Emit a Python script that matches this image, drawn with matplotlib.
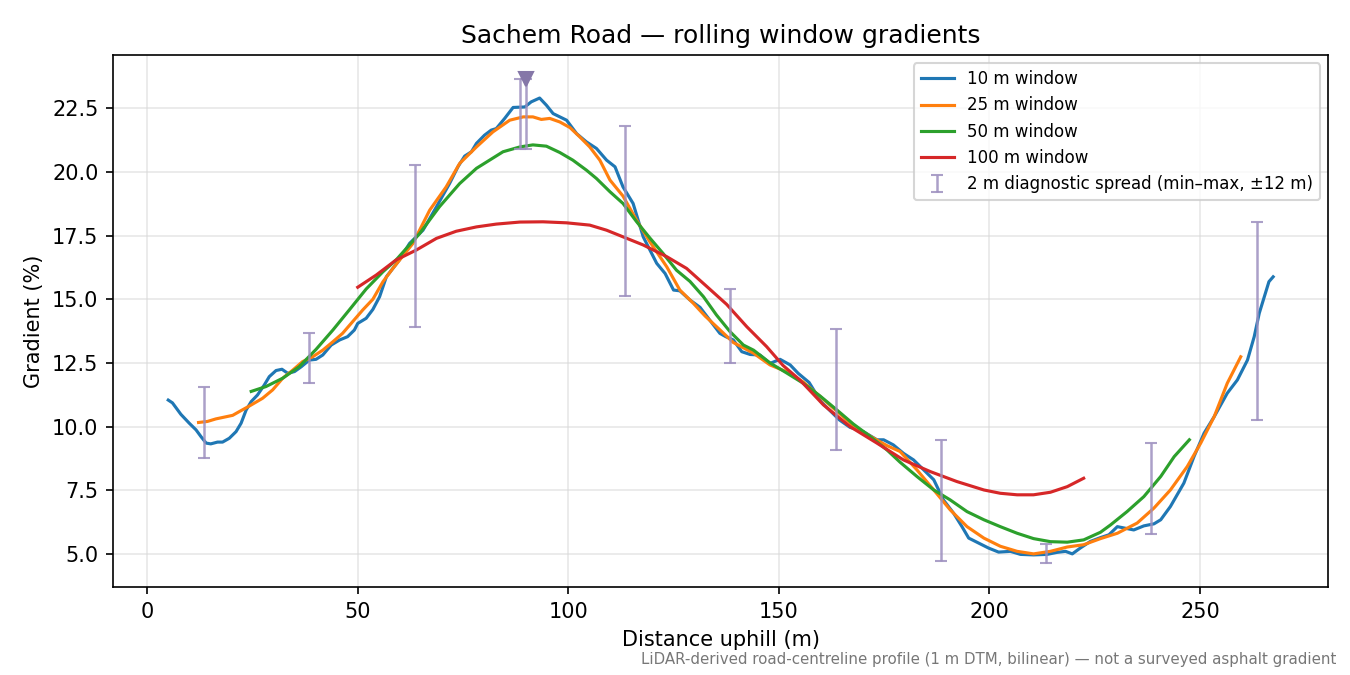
import matplotlib
matplotlib.use("Agg")
import matplotlib.pyplot as plt

# 10 m window
w10_x = [5, 6, 8, 10, 11.6, 12.8, 14, 15.1, 16.7, 17.9, 19.5, 21.1, 22.3, 23.5, 24.7, 26.2, 27.8, 29,
         30.6, 32, 33.4, 35, 36.6, 38.5, 40.1, 41.7, 43.7, 45.7, 47.6, 49.2, 50, 52, 53.6, 55.2, 56.8,
         59.9, 62.3, 65.5, 68.7, 71.8, 73.8, 75.4, 77, 78.2, 80.1, 81.7, 82.9, 84.9, 86.9, 89.7, 91.2,
         93.2, 94.8, 96.4, 98, 99.6, 102, 104.3, 106.7, 109.1, 111.1, 113, 115.4, 117.8, 119.4, 121,
         123, 125, 126.5, 128.9, 131.3, 133.6, 136, 137.4, 139.2, 141.2, 143.2, 145.5, 147.9, 150.3,
         152.7, 154.6, 157.2, 160, 162.2, 164.4, 166.9, 170.1, 173.3, 174.9, 177.2, 179.6, 182, 184.4,
         186.8, 189.1, 191.5, 193.5, 195.1, 197.5, 199.8, 202.2, 205, 207.4, 210.5, 213.7, 216.1,
         218.1, 219.7, 221.6, 224, 226.4, 228.4, 230.4, 234.3, 236.7, 239.1, 240.7, 243, 246.2,
         248.6, 251, 253.4, 256.5, 258.9, 261.3, 262.9, 264.1, 265.3, 266.4, 267.4]
w10_y = [11.04, 10.93, 10.48, 10.13, 9.87, 9.6, 9.35, 9.32, 9.39, 9.39, 9.54, 9.8, 10.13, 10.65, 10.98,
         11.24, 11.63, 11.96, 12.2, 12.25, 12.09, 12.16, 12.35, 12.61, 12.64, 12.81, 13.2, 13.4, 13.53,
         13.79, 14.05, 14.25, 14.6, 15.1, 15.88, 16.54, 17.19, 17.71, 18.63, 19.54, 20.2, 20.62, 20.79,
         21.12, 21.44, 21.64, 21.7, 22.1, 22.53, 22.55, 22.75, 22.9, 22.62, 22.29, 22.16, 22.03, 21.5,
         21.18, 20.92, 20.46, 20.2, 19.41, 18.76, 17.45, 16.93, 16.41, 16.01, 15.36, 15.33, 14.97,
         14.68, 14.18, 13.66, 13.53, 13.4, 12.94, 12.83, 12.81, 12.48, 12.64, 12.42, 12.09, 11.73,
         10.98, 10.62, 10.26, 9.97, 9.8, 9.48, 9.48, 9.28, 8.95, 8.69, 8.3, 7.91, 7.12, 6.6, 6.07,
         5.62, 5.42, 5.23, 5.07, 5.1, 4.98, 4.96, 4.98, 5.06, 5.1, 5.0, 5.23, 5.49, 5.64, 5.75, 6.07,
         5.94, 6.1, 6.18, 6.34, 6.86, 7.78, 8.82, 9.74, 10.39, 11.31, 11.83, 12.61, 13.53, 14.45,
         15.1, 15.69, 15.88]

# 25 m window
w25_x = [12.2, 14.3, 16.3, 18.3, 20.3, 21.9, 24.3, 27.4, 29.8, 32.2, 34.6, 36.9, 39.3, 41.7, 44.1,
         46.4, 48.8, 51.2, 53.6, 56, 58.3, 63.1, 67.1, 71, 74.2, 78.2, 82.1, 86.1, 89.3, 91.6, 93.6,
         95.6, 98, 100.4, 102.7, 105.1, 107.5, 109.9, 113, 116.2, 119.4, 123.4, 126.5, 129.7, 132.5,
         136, 139.2, 144, 147.9, 151.9, 155.8, 159.8, 163.8, 167.7, 171.7, 175.7, 178.8, 182.8,
         186.8, 190.7, 194.7, 198.7, 202.6, 206.6, 210.5, 214.5, 218.5, 222.4, 226.4, 230.4, 235.1,
         239.1, 243, 247, 250.2, 253.4, 256.5, 259.7]
w25_y = [10.16, 10.2, 10.3, 10.37, 10.44, 10.59, 10.81, 11.11, 11.44, 11.9, 12.22, 12.55, 12.74, 13.0,
         13.33, 13.66, 14.12, 14.58, 15.0, 15.69, 16.2, 17.19, 18.5, 19.41, 20.33, 20.98, 21.57,
         22.03, 22.16, 22.16, 22.06, 22.1, 21.96, 21.74, 21.38, 20.98, 20.46, 19.68, 19.05, 18.11,
         17.25, 16.27, 15.36, 14.84, 14.34, 13.8, 13.3, 12.88, 12.42, 12.15, 11.75, 11.18, 10.6,
         10.03, 9.62, 9.25, 9.02, 8.3, 7.51, 6.73, 6.07, 5.62, 5.3, 5.1, 5.0, 5.1, 5.27, 5.36, 5.6,
         5.81, 6.21, 6.8, 7.51, 8.43, 9.35, 10.39, 11.7, 12.74]

# 50 m window
w50_x = [24.7, 28.2, 32.2, 36.1, 40.1, 44.1, 48, 52, 56, 59.1, 64.7, 69.4, 74.2, 78.2, 81.3, 84.5,
         88.5, 91.6, 94.8, 98, 101.1, 104.3, 106.7, 109.9, 113, 116.2, 119.4, 122.5, 125.7, 128.9,
         132.1, 135.2, 138.4, 141.6, 144, 147.9, 151.9, 155.8, 159.8, 163.8, 167.7, 171.7, 175.7,
         178.8, 182.8, 186.8, 190.7, 194.7, 198.7, 202.6, 206.6, 210.5, 214.5, 218.5, 222.4, 226.4,
         228.8, 232.7, 236.7, 240.7, 243.9, 247.5]
w50_y = [11.38, 11.57, 11.9, 12.35, 13.03, 13.79, 14.58, 15.4, 16.08, 16.54, 17.58, 18.63, 19.54,
         20.14, 20.46, 20.79, 20.98, 21.06, 21.01, 20.76, 20.46, 20.07, 19.74, 19.22, 18.76, 18.05,
         17.4, 16.8, 16.14, 15.7, 15.1, 14.38, 13.73, 13.2, 13.0, 12.5, 12.1, 11.7, 11.2, 10.65,
         10.1, 9.61, 9.08, 8.6, 8.04, 7.51, 7.12, 6.66, 6.34, 6.07, 5.81, 5.6, 5.48, 5.46, 5.55, 5.85,
         6.14, 6.66, 7.25, 8.04, 8.82, 9.48]

# 100 m window
w100_x = [50, 54.4, 59.1, 63.9, 68.7, 73.4, 78.2, 82.9, 88.5, 94, 99.6, 105.1, 109.1, 113, 117.8,
          123.4, 128.1, 132.9, 137.6, 142.4, 147.1, 151, 155, 160.6, 166.9, 173.3, 179.6, 186,
          192.3, 198.7, 202.6, 206.6, 210.5, 214.5, 218.5, 222.4]
w100_y = [15.47, 15.95, 16.54, 16.93, 17.39, 17.67, 17.84, 17.95, 18.03, 18.04, 18.0, 17.91, 17.71,
          17.45, 17.13, 16.67, 16.21, 15.5, 14.8, 13.92, 13.14, 12.4, 11.83, 10.85, 10.0, 9.35, 8.69,
          8.23, 7.84, 7.51, 7.38, 7.32, 7.32, 7.42, 7.64, 7.97]

# 2 m diagnostic spread (min-max)
spread_x = [13.5, 38.5, 63.5, 88.5, 90, 113.5, 138.5, 163.5, 188.5, 213.5, 238.5, 263.5]
spread_lo = [8.77, 11.71, 13.9, 20.89, 20.89, 15.12, 12.5, 9.08, 4.73, 4.65, 5.79, 10.26]
spread_hi = [11.55, 13.67, 20.26, 23.64, 23.64, 21.79, 15.4, 13.83, 9.48, 5.4, 9.36, 18.03]

peak_x = 90
peak_y = 23.64

fig = plt.figure(figsize=(9, 4.5), dpi=150)
ax = fig.add_axes([0.0837, 0.1304, 0.9003, 0.7881])

ax.plot(w10_x, w10_y, color="#1f77b4", lw=1.5, label="10 m window")
ax.plot(w25_x, w25_y, color="#ff7f0e", lw=1.5, label="25 m window")
ax.plot(w50_x, w50_y, color="#2ca02c", lw=1.5, label="50 m window")
ax.plot(w100_x, w100_y, color="#d62728", lw=1.5, label="100 m window")

mid = [(a + b) / 2 for a, b in zip(spread_lo, spread_hi)]
err = [[m - a for m, a in zip(mid, spread_lo)], [b - m for m, b in zip(mid, spread_hi)]]
ax.errorbar(spread_x, mid, yerr=err, fmt="none", ecolor="#9d8fbf", alpha=0.85,
            elinewidth=1.2, capsize=3, capthick=1.0,
            label="2 m diagnostic spread (min–max, ±12 m)")
ax.plot([peak_x], [peak_y], marker="v", ms=7, color="#8577a8", ls="none")

ax.set_title("Sachem Road — rolling window gradients", fontsize=12)
ax.set_xlabel("Distance uphill (m)", fontsize=10)
ax.set_ylabel("Gradient (%)", fontsize=10)
ax.grid(True, color="#d9d9d9", alpha=0.6, lw=0.8)
ax.legend(loc="upper right", fontsize=8)

fig.text(0.99, 0.012, "LiDAR-derived road-centreline profile (1 m DTM, bilinear) — not a surveyed asphalt gradient",
         ha="right", va="bottom", fontsize=7.2, color="#777777")

fig.savefig("out.png", dpi=150)
